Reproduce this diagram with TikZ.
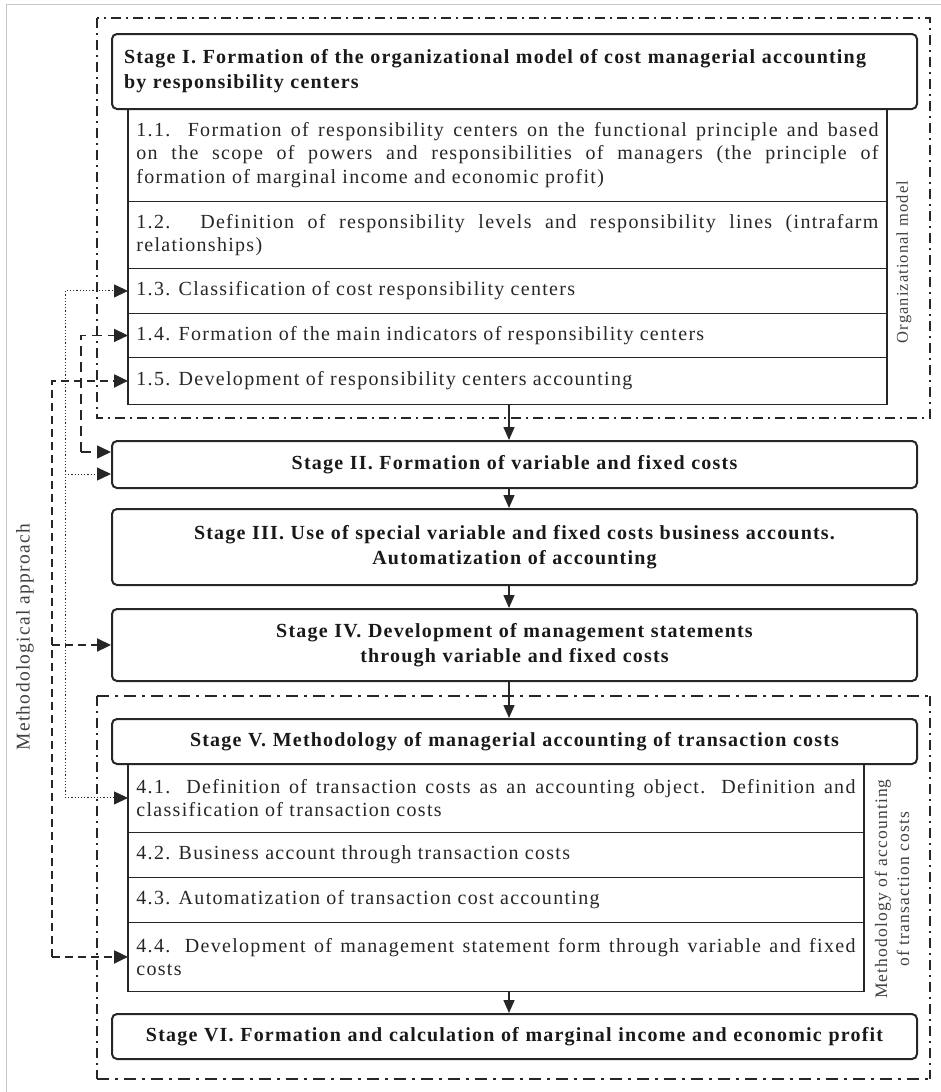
\documentclass[tikz,border=0pt]{standalone}
\usepackage{fontspec}
\setmainfont{Liberation Serif}
\newfontfamily\rowfnt[LetterSpace=6.5]{Liberation Serif}
\newfontfamily\stgfnt[LetterSpace=6]{Liberation Serif}
\usetikzlibrary{arrows.meta,calc}
\tikzset{
  stagebox/.style={draw=black!85, line width=2pt, rounded corners=5pt, inner xsep=12pt, inner ysep=0pt,
    anchor=north west, text width=781pt, align=center, text=black!90,
    font=\stgfnt\bfseries\fontsize{20}{25}\selectfont},
  rowbox/.style={draw=black!85, line width=0.9pt, inner xsep=8pt, inner ysep=0pt, anchor=north west,
    align=justify, text=black!85, font=\rowfnt\fontsize{20}{23.5}\selectfont},
  rowA/.style={rowbox, text width=742pt},
  rowB/.style={rowbox, text width=719pt},
  flow/.style={line width=1.5pt, draw=black!85, -{Triangle[length=13pt,width=11pt]}},
  ltip/.style={-{Triangle[length=14pt,width=13pt]}},
  dotl/.style={draw=black!85, line width=1pt, dash pattern=on 1.2pt off 2pt, ltip},
  dashA/.style={draw=black!85, line width=1.6pt, dash pattern=on 10pt off 6pt, ltip},
  dashB/.style={draw=black!85, line width=2.2pt, dash pattern=on 8pt off 5pt, ltip},
  ddot/.style={draw=black!85, line width=1.2pt, dash pattern=on 10pt off 5pt on 2pt off 5pt},
  ddotthick/.style={draw=black!85, line width=2.6pt, dash pattern=on 12pt off 6pt on 3pt off 6pt},
  sidelabel/.style={rotate=90, text=black!75, align=center}
}
\begin{document}
\begin{tikzpicture}[x=1pt,y=-1pt]
\useasboundingbox (0,0) rectangle (941,1092);
\draw[gray!45, line width=1pt] (6,1092) -- (6,4) -- (941,4);

% dash-dot groups
\draw[ddot] (97,18) rectangle (930,418);
\draw[ddot] (97,696) -- (97,1079);
\draw[ddot] (930,696) -- (930,1079);
\draw[ddotthick] (97,696) -- (930,696);
\draw[ddotthick] (97,1079) -- (930,1079);

% table 1
\node[rowA, minimum height=93pt] (r11) at (128,108) {1.1. Formation of responsibility centers on the functional principle and based\linebreak on the scope of powers and responsibilities of managers (the principle of\linebreak formation of marginal income and economic profit)};
\node[rowA, minimum height=67pt] (r12) at (128,201) {1.2. Definition of responsibility levels and responsibility lines (intrafarm\linebreak relationships)};
\node[rowA, minimum height=45pt] (r13) at (128,268) {1.3. Classification of cost responsibility centers};
\node[rowA, minimum height=44pt] (r14) at (128,313) {1.4. Formation of the main indicators of responsibility centers};
\node[rowA, minimum height=47pt] (r15) at (128,357) {1.5. Development of responsibility centers accounting};
\draw[line width=2pt, black!85] (r11.north west) -- (r15.south west);
\draw[line width=1.5pt, black!85] (r11.north east) -- (r15.south east);

% table 2
\node[rowB, minimum height=69pt] (r41) at (128,763) {4.1. Definition of transaction costs as an accounting object. Definition and\linebreak classification of transaction costs};
\node[rowB, minimum height=45pt] (r42) at (128,832) {4.2. Business account through transaction costs};
\node[rowB, minimum height=45pt] (r43) at (128,877) {4.3. Automatization of transaction cost accounting};
\node[rowB, minimum height=69pt] (r44) at (128,922) {4.4. Development of management statement form through variable and fixed\linebreak costs};
\draw[line width=2pt, black!85] (r41.north west) -- (r44.south west);
\draw[line width=1.5pt, black!85] (r41.north east) -- (r44.south east);

% stages
\node[stagebox, align=left, minimum height=75pt] (s1) at (111,33) {Stage I. Formation of the organizational model of cost managerial accounting\\by responsibility centers};
\node[stagebox, minimum height=47pt] (s2) at (111,440) {Stage II. Formation of variable and fixed costs};
\node[stagebox, minimum height=76pt] (s3) at (111,508) {Stage III. Use of special variable and fixed costs business accounts.\\Automatization of accounting};
\node[stagebox, minimum height=72pt] (s4) at (111,608) {Stage IV. Development of management statements\\through variable and fixed costs};
\node[stagebox, minimum height=45pt] (s5) at (111,718) {Stage V. Methodology of managerial accounting of transaction costs};
\node[stagebox, minimum height=45pt] (s6) at (111,1013) {Stage VI. Formation and calculation of marginal income and economic profit};

% side labels
\node[sidelabel, font=\rowfnt\fontsize{16.5}{18}\selectfont] (lorg) at (904,262) {Organizational model};
\node[sidelabel, font=\rowfnt\fontsize{17.5}{22}\selectfont] (lmeth) at (892,889) {Methodology of accounting\\of transaction costs};
\node[sidelabel, font=\rowfnt\fontsize{19.5}{22}\selectfont] (lapp) at (25,637) {Methodological approach};

% main flow
\coordinate (mx) at (509,0);
\draw[flow] (mx |- r15.south) -- (mx |- s2.north);
\draw[flow] (mx |- s2.south) -- (mx |- s3.north);
\draw[flow] (mx |- s3.south) -- (mx |- s4.north);
\draw[flow] (mx |- s4.south) -- (mx |- s5.north);
\draw[flow] (mx |- r44.south) -- (mx |- s6.north);

% left connectors
\coordinate (dx) at (65,0);
\coordinate (ex) at (81,0);
\coordinate (fx) at (52,0);
\coordinate (s2hi) at ([yshift=12.5pt]s2.west);
\coordinate (s2lo) at ([yshift=-9.5pt]s2.west);

\draw[dotl] (dx |- r41.west) -- (dx |- r13.west) -- (r13.west);
\draw[dotl] (dx |- s2lo) -- (s2lo);
\draw[dotl] (dx |- r41.west) -- (r41.west);

\draw[dashA] (ex |- s2hi) -- (ex |- r14.west) -- (r14.west);
\draw[dashA] (ex |- s2hi) -- (s2hi);

\draw[dashB] (fx |- r44.west) -- (fx |- r15.west) -- (r15.west);
\draw[dashB] (fx |- s4.west) -- (s4.west);
\draw[dashB] (fx |- r44.west) -- (r44.west);
\end{tikzpicture}
\end{document}
